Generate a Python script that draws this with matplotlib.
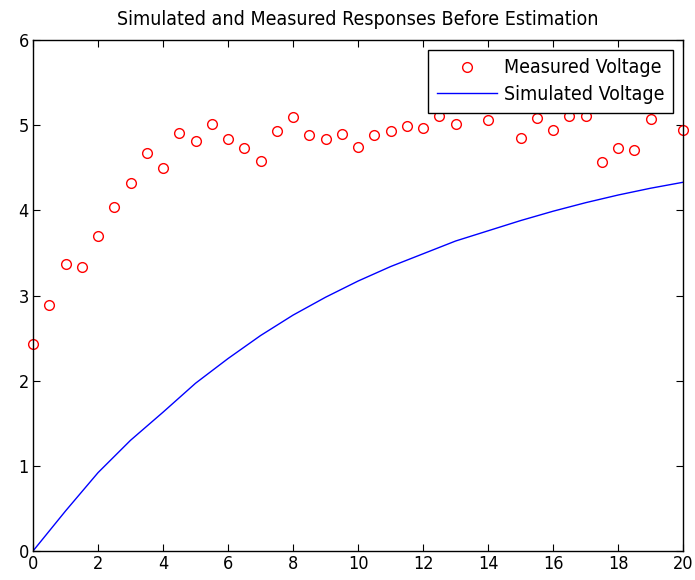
import numpy as np
import matplotlib
matplotlib.use("Agg")
import matplotlib.pyplot as plt

plt.rcParams["font.family"] = ["DejaVu Sans"]
plt.rcParams["font.stretch"] = "condensed"

# Mesures (échantillonnées tous les 0.5 s)
t_mes = np.arange(0, 20.5, 0.5)
v_mes = [2.43, 2.89, 3.37, 3.33, 3.70, 4.04, 4.32, 4.67, 4.50, 4.91,
         4.81, 5.01, 4.84, 4.73, 4.58, 4.93, 5.10, 4.88, 4.84, 4.90,
         4.74, 4.88, 4.93, 4.99, 4.97, 5.11, 5.01, 5.35, 5.06, 5.35,
         4.85, 5.09, 4.94, 5.11, 5.11, 4.57, 4.73, 4.71, 5.07, 5.35,
         4.94]

# Réponse simulée
t_sim = np.arange(0, 21, 1)
v_sim = [0.0, 0.47, 0.92, 1.30, 1.63, 1.97, 2.26, 2.53, 2.77, 2.98,
         3.17, 3.34, 3.49, 3.64, 3.76, 3.88, 3.99, 4.09, 4.18, 4.26,
         4.33]

fig = plt.figure(figsize=(6.95, 5.8), dpi=100)
ax = fig.add_axes([0.0475, 0.05, 0.9355, 0.881])

ax.plot(t_mes, v_mes, "o", color="red", mfc="none", ms=7, mew=1,
        label="Measured Voltage", clip_on=False)
ax.plot(t_sim, v_sim, "-", color="blue", lw=1, label="Simulated Voltage")

ax.set_xlim(0, 20)
ax.set_ylim(0, 6)
ax.set_xticks(np.arange(0, 21, 2))
ax.set_yticks(np.arange(0, 7, 1))
ax.tick_params(direction="in", top=True, right=True, length=5,
               labelsize=13, pad=3)
for s in ax.spines.values():
    s.set_linewidth(1)

ax.set_title("Simulated and Measured Responses Before Estimation",
             fontsize=14, pad=11)

leg = ax.legend(loc="upper right", fontsize=14, frameon=True, fancybox=False,
                framealpha=1, edgecolor="black", borderpad=0.45,
                handlelength=3.1, handletextpad=0.35, borderaxespad=0.5,
                labelspacing=0.4)
leg.get_frame().set_linewidth(1)
leg.set_zorder(10)

fig.savefig("out.png", dpi=100)
